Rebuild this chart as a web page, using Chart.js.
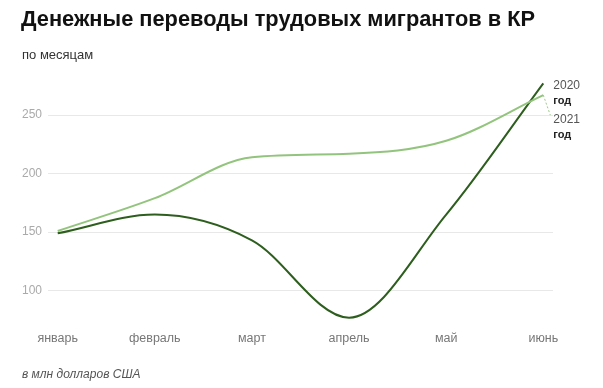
<!DOCTYPE html>
<html>
<head>
<meta charset="utf-8">
<script src="https://cdn.jsdelivr.net/npm/chart.js@4.4.0/dist/chart.umd.min.js"></script>
<style>
  body { margin: 0; background: #fff; font-family: "Liberation Sans", Arial, sans-serif; }
  #wrap { position: relative; width: 603px; height: 388px; }
  #chart { position: absolute; left: 0; top: 0; }
  .title { position: absolute; left: 21px; top: 6px; font-size: 21.8px; font-weight: bold; color: #111; }
  .sub { position: absolute; left: 22px; top: 47px; font-size: 13px; color: #333; }
  .note { position: absolute; left: 22px; top: 367px; font-size: 12px; font-style: italic; color: #555; }
</style>
</head>
<body>
<div id="wrap">
  <canvas id="chart" width="603" height="388"></canvas>
  <div class="title">Денежные переводы трудовых мигрантов в КР</div>
  <div class="sub">по месяцам</div>
  <div class="note">в млн долларов США</div>
</div>
<script>
// месяцы и значения, млн долларов США
var months = ['январь', 'февраль', 'март', 'апрель', 'май', 'июнь'];
var values2020 = [149, 165, 143, 77, 165, 277];
var values2021 = [151, 179, 214, 217, 228, 267];
var yTicks = [100, 150, 200, 250];

function toPoints(arr) {
    return arr.map(function (v, i) { return { x: i, y: v }; });
}

// подписи "2020 год" / "2021 год" справа от концов линий
var endLabels = {
    id: 'endLabels',
    afterDatasetsDraw: function (chart) {
        var ctx = chart.ctx;
        var xs = chart.scales.x, ys = chart.scales.y;
        var last = months.length - 1;
        var px = xs.getPixelForValue(last);
        var yDark = ys.getPixelForValue(values2020[last]);
        var yLight = ys.getPixelForValue(values2021[last]);
        ctx.save();
        ctx.textBaseline = 'middle';
        ctx.textAlign = 'left';

        ctx.font = '12px "Liberation Sans", Arial, sans-serif';
        ctx.fillStyle = '#555';
        ctx.fillText('2020', px + 10, yDark + 2);
        ctx.font = 'bold 11px "Liberation Sans", Arial, sans-serif';
        ctx.fillStyle = '#222';
        ctx.fillText('год', px + 10, yDark + 18);

        ctx.strokeStyle = '#9cc88a';
        ctx.lineWidth = 1;
        ctx.setLineDash([2, 2]);
        ctx.beginPath();
        ctx.moveTo(px, yLight);
        ctx.lineTo(px + 7, yLight + 20);
        ctx.stroke();
        ctx.setLineDash([]);

        ctx.font = '12px "Liberation Sans", Arial, sans-serif';
        ctx.fillStyle = '#555';
        ctx.fillText('2021', px + 10, yLight + 25);
        ctx.font = 'bold 11px "Liberation Sans", Arial, sans-serif';
        ctx.fillStyle = '#222';
        ctx.fillText('год', px + 10, yLight + 40);
        ctx.restore();
    }
};

var ctx = document.getElementById('chart').getContext('2d');
new Chart(ctx, {
    type: 'line',
    data: {
        datasets: [{
            label: '2021 год',
            data: toPoints(values2021),
            borderColor: '#93c47d',
            borderWidth: 2,
            pointRadius: 0,
            cubicInterpolationMode: 'monotone'
        }, {
            label: '2020 год',
            data: toPoints(values2020),
            borderColor: '#2d5e1e',
            borderWidth: 2,
            pointRadius: 0,
            cubicInterpolationMode: 'monotone'
        }]
    },
    options: {
        responsive: false,
        animation: false,
        layout: { padding: { left: 0, right: 50, top: 74, bottom: 31 } },
        plugins: {
            legend: { display: false },
            tooltip: { enabled: false }
        },
        scales: {
            x: {
                type: 'linear',
                min: -0.1,
                max: 5.1,
                grid: { display: false, drawTicks: false },
                border: { display: false },
                afterBuildTicks: function (scale) {
                    scale.ticks = months.map(function (m, i) { return { value: i }; });
                },
                ticks: {
                    padding: 11,
                    color: '#777',
                    font: { size: 12.5, family: '"Liberation Sans", Arial, sans-serif' },
                    callback: function (v) { return months[v]; }
                }
            },
            y: {
                min: 75,
                max: 285,
                afterFit: function (scale) { scale.width = 48; },
                afterBuildTicks: function (scale) {
                    scale.ticks = yTicks.map(function (v) { return { value: v }; });
                },
                grid: { color: '#e8e8e8', drawTicks: false },
                border: { display: false },
                ticks: {
                    padding: 6,
                    color: '#aaa',
                    font: { size: 12, family: '"Liberation Sans", Arial, sans-serif' }
                }
            }
        }
    },
    plugins: [endLabels]
});
</script>
</body>
</html>
